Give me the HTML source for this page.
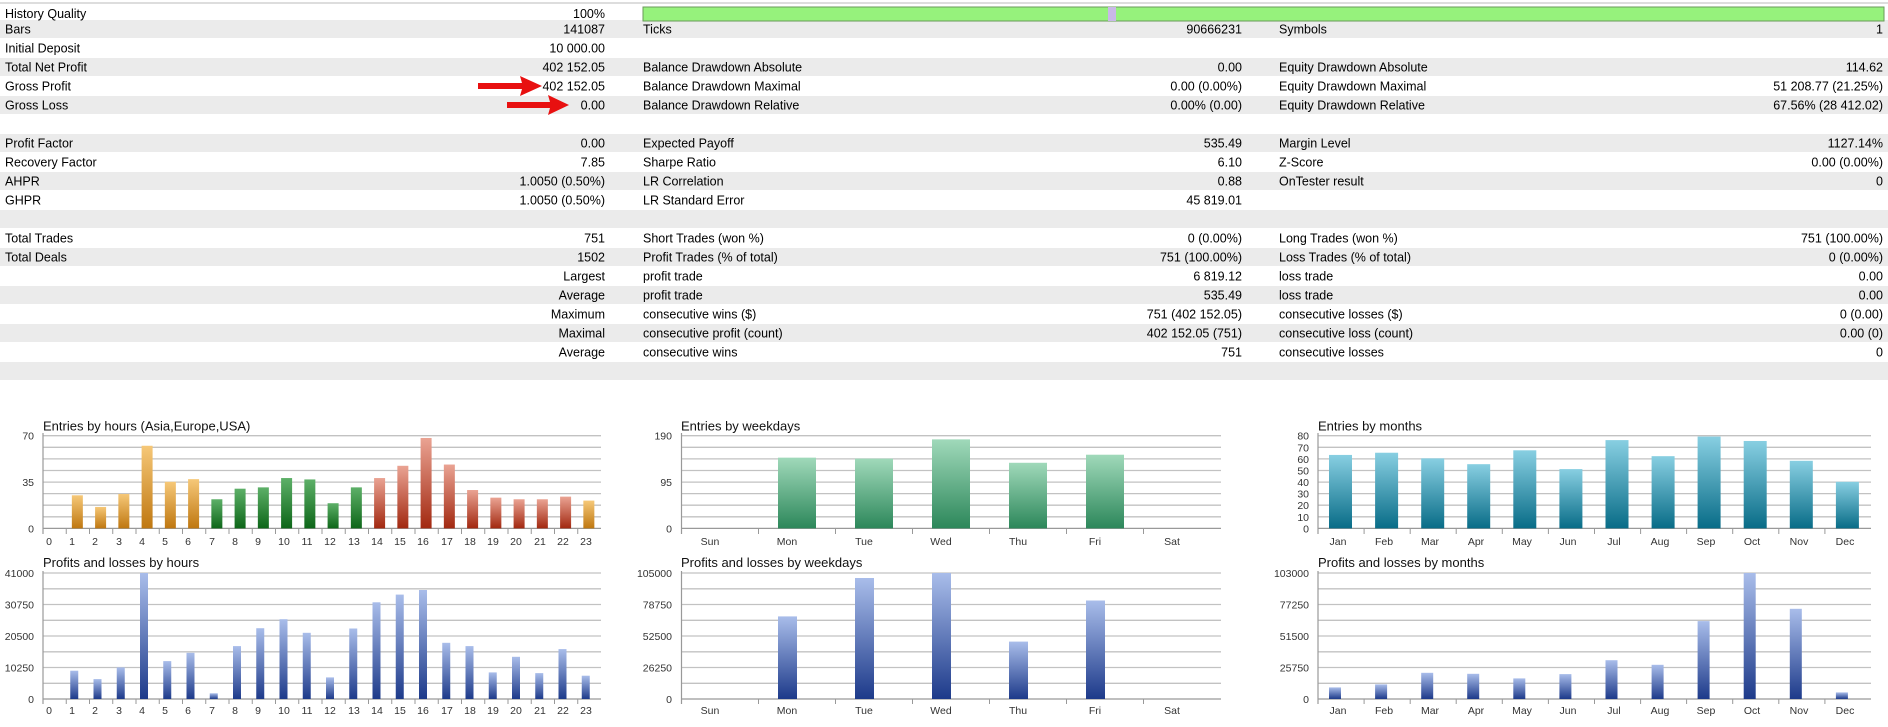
<!DOCTYPE html>
<html><head><meta charset="utf-8"><style>
html,body{margin:0;padding:0;background:#fff;}
svg{display:block;}
text{font-family:"Liberation Sans",sans-serif;}
.t{font-size:12.5px;fill:#000;}
.r{text-anchor:end;}
.ax{font-size:10.5px;fill:#333;}
.ti{font-size:13px;fill:#111;}
.g{stroke:#c2c2c2;stroke-width:1.3;}
</style></head><body>
<svg width="1888" height="727" viewBox="0 0 1888 727" xmlns="http://www.w3.org/2000/svg">
<defs>
<linearGradient id="or" x1="0" y1="0" x2="0" y2="1"><stop offset="0" stop-color="#f6c878"/><stop offset="1" stop-color="#bf7710"/></linearGradient>
<linearGradient id="gr" x1="0" y1="0" x2="0" y2="1"><stop offset="0" stop-color="#5db068"/><stop offset="1" stop-color="#0d6618"/></linearGradient>
<linearGradient id="rd" x1="0" y1="0" x2="0" y2="1"><stop offset="0" stop-color="#eaa393"/><stop offset="1" stop-color="#a22810"/></linearGradient>
<linearGradient id="wg" x1="0" y1="0" x2="0" y2="1"><stop offset="0" stop-color="#a0d9ba"/><stop offset="1" stop-color="#2c875a"/></linearGradient>
<linearGradient id="tl" x1="0" y1="0" x2="0" y2="1"><stop offset="0" stop-color="#88cfe2"/><stop offset="1" stop-color="#086c87"/></linearGradient>
<linearGradient id="bl" x1="0" y1="0" x2="0" y2="1"><stop offset="0" stop-color="#a9bdea"/><stop offset="1" stop-color="#1d3a8a"/></linearGradient>
</defs>
<rect width="1888" height="727" fill="#fff"/>
<line x1="0" y1="3" x2="1888" y2="3" stroke="#bbb"/>
<g fill="#ebebeb">
<rect x="0" y="20" width="1888" height="18"/>
<rect x="0" y="58" width="1888" height="18"/>
<rect x="0" y="96" width="1888" height="18"/>
<rect x="0" y="134" width="1888" height="18"/>
<rect x="0" y="172" width="1888" height="18"/>
<rect x="0" y="210" width="1888" height="18"/>
<rect x="0" y="248" width="1888" height="18"/>
<rect x="0" y="286" width="1888" height="18"/>
<rect x="0" y="324" width="1888" height="18"/>
<rect x="0" y="362" width="1888" height="18"/>
</g>
<rect x="643" y="7" width="1241" height="14" fill="#96f27c" stroke="#6a9a5a" stroke-width="1"/>
<rect x="1108" y="7" width="8" height="14" fill="#c9b8e8"/>
<g class="t">
<text x="5" y="18">History Quality</text><text x="605" y="18" class="r">100%</text>
<g transform="translate(0,-9)">
<text x="5" y="42.5">Bars</text><text x="605" y="42.5" class="r">141087</text><text x="643" y="42.5">Ticks</text><text x="1242" y="42.5" class="r">90666231</text><text x="1279" y="42.5">Symbols</text><text x="1883" y="42.5" class="r">1</text>
<text x="5" y="61.5">Initial Deposit</text><text x="605" y="61.5" class="r">10 000.00</text>
<text x="5" y="80.5">Total Net Profit</text><text x="605" y="80.5" class="r">402 152.05</text><text x="643" y="80.5">Balance Drawdown Absolute</text><text x="1242" y="80.5" class="r">0.00</text><text x="1279" y="80.5">Equity Drawdown Absolute</text><text x="1883" y="80.5" class="r">114.62</text>
<text x="5" y="99.5">Gross Profit</text><text x="605" y="99.5" class="r">402 152.05</text><text x="643" y="99.5">Balance Drawdown Maximal</text><text x="1242" y="99.5" class="r">0.00 (0.00%)</text><text x="1279" y="99.5">Equity Drawdown Maximal</text><text x="1883" y="99.5" class="r">51 208.77 (21.25%)</text>
<text x="5" y="118.5">Gross Loss</text><text x="605" y="118.5" class="r">0.00</text><text x="643" y="118.5">Balance Drawdown Relative</text><text x="1242" y="118.5" class="r">0.00% (0.00)</text><text x="1279" y="118.5">Equity Drawdown Relative</text><text x="1883" y="118.5" class="r">67.56% (28 412.02)</text>
<text x="5" y="156.5">Profit Factor</text><text x="605" y="156.5" class="r">0.00</text><text x="643" y="156.5">Expected Payoff</text><text x="1242" y="156.5" class="r">535.49</text><text x="1279" y="156.5">Margin Level</text><text x="1883" y="156.5" class="r">1127.14%</text>
<text x="5" y="175.5">Recovery Factor</text><text x="605" y="175.5" class="r">7.85</text><text x="643" y="175.5">Sharpe Ratio</text><text x="1242" y="175.5" class="r">6.10</text><text x="1279" y="175.5">Z-Score</text><text x="1883" y="175.5" class="r">0.00 (0.00%)</text>
<text x="5" y="194.5">AHPR</text><text x="605" y="194.5" class="r">1.0050 (0.50%)</text><text x="643" y="194.5">LR Correlation</text><text x="1242" y="194.5" class="r">0.88</text><text x="1279" y="194.5">OnTester result</text><text x="1883" y="194.5" class="r">0</text>
<text x="5" y="213.5">GHPR</text><text x="605" y="213.5" class="r">1.0050 (0.50%)</text><text x="643" y="213.5">LR Standard Error</text><text x="1242" y="213.5" class="r">45 819.01</text>
<text x="5" y="251.5">Total Trades</text><text x="605" y="251.5" class="r">751</text><text x="643" y="251.5">Short Trades (won %)</text><text x="1242" y="251.5" class="r">0 (0.00%)</text><text x="1279" y="251.5">Long Trades (won %)</text><text x="1883" y="251.5" class="r">751 (100.00%)</text>
<text x="5" y="270.5">Total Deals</text><text x="605" y="270.5" class="r">1502</text><text x="643" y="270.5">Profit Trades (% of total)</text><text x="1242" y="270.5" class="r">751 (100.00%)</text><text x="1279" y="270.5">Loss Trades (% of total)</text><text x="1883" y="270.5" class="r">0 (0.00%)</text>
<text x="605" y="289.5" class="r">Largest</text><text x="643" y="289.5">profit trade</text><text x="1242" y="289.5" class="r">6 819.12</text><text x="1279" y="289.5">loss trade</text><text x="1883" y="289.5" class="r">0.00</text>
<text x="605" y="308.5" class="r">Average</text><text x="643" y="308.5">profit trade</text><text x="1242" y="308.5" class="r">535.49</text><text x="1279" y="308.5">loss trade</text><text x="1883" y="308.5" class="r">0.00</text>
<text x="605" y="327.5" class="r">Maximum</text><text x="643" y="327.5">consecutive wins ($)</text><text x="1242" y="327.5" class="r">751 (402 152.05)</text><text x="1279" y="327.5">consecutive losses ($)</text><text x="1883" y="327.5" class="r">0 (0.00)</text>
<text x="605" y="346.5" class="r">Maximal</text><text x="643" y="346.5">consecutive profit (count)</text><text x="1242" y="346.5" class="r">402 152.05 (751)</text><text x="1279" y="346.5">consecutive loss (count)</text><text x="1883" y="346.5" class="r">0.00 (0)</text>
<text x="605" y="365.5" class="r">Average</text><text x="643" y="365.5">consecutive wins</text><text x="1242" y="365.5" class="r">751</text><text x="1279" y="365.5">consecutive losses</text><text x="1883" y="365.5" class="r">0</text>
</g>
</g>
<g fill="#e81010">
<polygon points="478,83 522,83 520,76 542,86 520,96 522,89 478,89"/>
<polygon points="507,102 550,102 548,95 569,105 548,115 550,108 507,108"/>
</g>

<g class="g">
<line x1="43" x2="601" y1="435.7" y2="435.7"/><line x1="43" x2="601" y1="447.3" y2="447.3"/><line x1="43" x2="601" y1="458.9" y2="458.9"/><line x1="43" x2="601" y1="470.5" y2="470.5"/><line x1="43" x2="601" y1="482.1" y2="482.1"/><line x1="43" x2="601" y1="493.6" y2="493.6"/><line x1="43" x2="601" y1="505.2" y2="505.2"/><line x1="43" x2="601" y1="516.8" y2="516.8"/>
<line x1="681.5" x2="1221" y1="435.7" y2="435.7"/><line x1="681.5" x2="1221" y1="447.3" y2="447.3"/><line x1="681.5" x2="1221" y1="458.9" y2="458.9"/><line x1="681.5" x2="1221" y1="470.5" y2="470.5"/><line x1="681.5" x2="1221" y1="482.1" y2="482.1"/><line x1="681.5" x2="1221" y1="493.6" y2="493.6"/><line x1="681.5" x2="1221" y1="505.2" y2="505.2"/><line x1="681.5" x2="1221" y1="516.8" y2="516.8"/>
<line x1="1318" x2="1871" y1="435.7" y2="435.7"/><line x1="1318" x2="1871" y1="447.3" y2="447.3"/><line x1="1318" x2="1871" y1="458.9" y2="458.9"/><line x1="1318" x2="1871" y1="470.5" y2="470.5"/><line x1="1318" x2="1871" y1="482.1" y2="482.1"/><line x1="1318" x2="1871" y1="493.6" y2="493.6"/><line x1="1318" x2="1871" y1="505.2" y2="505.2"/><line x1="1318" x2="1871" y1="516.8" y2="516.8"/>
<line x1="43" x2="601" y1="573" y2="573"/><line x1="43" x2="601" y1="588.8" y2="588.8"/><line x1="43" x2="601" y1="604.5" y2="604.5"/><line x1="43" x2="601" y1="620.3" y2="620.3"/><line x1="43" x2="601" y1="636" y2="636"/><line x1="43" x2="601" y1="651.8" y2="651.8"/><line x1="43" x2="601" y1="667.5" y2="667.5"/><line x1="43" x2="601" y1="683.3" y2="683.3"/>
<line x1="681.5" x2="1221" y1="573" y2="573"/><line x1="681.5" x2="1221" y1="588.8" y2="588.8"/><line x1="681.5" x2="1221" y1="604.5" y2="604.5"/><line x1="681.5" x2="1221" y1="620.3" y2="620.3"/><line x1="681.5" x2="1221" y1="636" y2="636"/><line x1="681.5" x2="1221" y1="651.8" y2="651.8"/><line x1="681.5" x2="1221" y1="667.5" y2="667.5"/><line x1="681.5" x2="1221" y1="683.3" y2="683.3"/>
<line x1="1318" x2="1871" y1="573" y2="573"/><line x1="1318" x2="1871" y1="588.8" y2="588.8"/><line x1="1318" x2="1871" y1="604.5" y2="604.5"/><line x1="1318" x2="1871" y1="620.3" y2="620.3"/><line x1="1318" x2="1871" y1="636" y2="636"/><line x1="1318" x2="1871" y1="651.8" y2="651.8"/><line x1="1318" x2="1871" y1="667.5" y2="667.5"/><line x1="1318" x2="1871" y1="683.3" y2="683.3"/>
</g>
<g stroke="#999" stroke-width="1.2">
<line x1="43" y1="433" x2="43" y2="534"/><line x1="43" y1="528.4" x2="601" y2="528.4"/>
<line x1="681.5" y1="433" x2="681.5" y2="534"/><line x1="681.5" y1="528.4" x2="1221" y2="528.4"/>
<line x1="1318" y1="433" x2="1318" y2="534"/><line x1="1318" y1="528.4" x2="1871" y2="528.4"/>
<line x1="43" y1="571" x2="43" y2="704"/><line x1="43" y1="699" x2="601" y2="699"/>
<line x1="681.5" y1="571" x2="681.5" y2="704"/><line x1="681.5" y1="699" x2="1221" y2="699"/>
<line x1="1318" y1="571" x2="1318" y2="704"/><line x1="1318" y1="699" x2="1871" y2="699"/>
</g>
<g stroke="#999" stroke-width="1">
<path d="M66.25 529v5M89.5 529v5M112.75 529v5M136 529v5M159.25 529v5M182.5 529v5M205.75 529v5M229 529v5M252.25 529v5M275.5 529v5M298.75 529v5M322 529v5M345.25 529v5M368.5 529v5M391.75 529v5M415 529v5M438.25 529v5M461.5 529v5M484.75 529v5M508 529v5M531.25 529v5M554.5 529v5M577.75 529v5"/>
<path d="M66.25 699v5M89.5 699v5M112.75 699v5M136 699v5M159.25 699v5M182.5 699v5M205.75 699v5M229 699v5M252.25 699v5M275.5 699v5M298.75 699v5M322 699v5M345.25 699v5M368.5 699v5M391.75 699v5M415 699v5M438.25 699v5M461.5 699v5M484.75 699v5M508 699v5M531.25 699v5M554.5 699v5M577.75 699v5"/>
<path d="M758.5 529v5M835.5 529v5M912.5 529v5M989.5 529v5M1066.5 529v5M1143.5 529v5M758.5 699v5M835.5 699v5M912.5 699v5M989.5 699v5M1066.5 699v5M1143.5 699v5"/>
<path d="M1364.1 529v5M1410.2 529v5M1456.2 529v5M1502.3 529v5M1548.4 529v5M1594.5 529v5M1640.6 529v5M1686.6 529v5M1732.7 529v5M1778.8 529v5M1824.9 529v5M1364.1 699v5M1410.2 699v5M1456.2 699v5M1502.3 699v5M1548.4 699v5M1594.5 699v5M1640.6 699v5M1686.6 699v5M1732.7 699v5M1778.8 699v5M1824.9 699v5"/>
</g>
<g class="ti">
<text x="43" y="430.5">Entries by hours (Asia,Europe,USA)</text>
<text x="681" y="430.5">Entries by weekdays</text>
<text x="1318" y="430.5">Entries by months</text>
<text x="43" y="567">Profits and losses by hours</text>
<text x="681" y="567">Profits and losses by weekdays</text>
<text x="1318" y="567">Profits and losses by months</text>
</g>
<g class="ax r">
<text x="34" y="439.7">70</text><text x="34" y="486">35</text><text x="34" y="532.4">0</text>
<text x="34" y="577">41000</text><text x="34" y="608.5">30750</text><text x="34" y="640">20500</text><text x="34" y="671.5">10250</text><text x="34" y="703">0</text>
<text x="672" y="439.7">190</text><text x="672" y="486">95</text><text x="672" y="532.4">0</text>
<text x="672" y="577">105000</text><text x="672" y="608.5">78750</text><text x="672" y="640">52500</text><text x="672" y="671.5">26250</text><text x="672" y="703">0</text>
<text x="1309" y="439.7">80</text><text x="1309" y="451.3">70</text><text x="1309" y="462.9">60</text><text x="1309" y="474.5">50</text><text x="1309" y="486.1">40</text><text x="1309" y="497.6">30</text><text x="1309" y="509.2">20</text><text x="1309" y="520.8">10</text><text x="1309" y="532.4">0</text>
<text x="1309" y="577">103000</text><text x="1309" y="608.5">77250</text><text x="1309" y="640">51500</text><text x="1309" y="671.5">25750</text><text x="1309" y="703">0</text>
</g>
<g class="ax" text-anchor="middle">
<text x="49" y="545">0</text><text x="72" y="545">1</text><text x="95" y="545">2</text><text x="119" y="545">3</text><text x="142" y="545">4</text><text x="165" y="545">5</text><text x="188" y="545">6</text><text x="212" y="545">7</text><text x="235" y="545">8</text><text x="258" y="545">9</text><text x="284" y="545">10</text><text x="307" y="545">11</text><text x="330" y="545">12</text><text x="354" y="545">13</text><text x="377" y="545">14</text><text x="400" y="545">15</text><text x="423" y="545">16</text><text x="447" y="545">17</text><text x="470" y="545">18</text><text x="493" y="545">19</text><text x="516" y="545">20</text><text x="540" y="545">21</text><text x="563" y="545">22</text><text x="586" y="545">23</text>
<text x="49" y="714">0</text><text x="72" y="714">1</text><text x="95" y="714">2</text><text x="119" y="714">3</text><text x="142" y="714">4</text><text x="165" y="714">5</text><text x="188" y="714">6</text><text x="212" y="714">7</text><text x="235" y="714">8</text><text x="258" y="714">9</text><text x="284" y="714">10</text><text x="307" y="714">11</text><text x="330" y="714">12</text><text x="354" y="714">13</text><text x="377" y="714">14</text><text x="400" y="714">15</text><text x="423" y="714">16</text><text x="447" y="714">17</text><text x="470" y="714">18</text><text x="493" y="714">19</text><text x="516" y="714">20</text><text x="540" y="714">21</text><text x="563" y="714">22</text><text x="586" y="714">23</text>
<text x="710" y="545">Sun</text><text x="787" y="545">Mon</text><text x="864" y="545">Tue</text><text x="941" y="545">Wed</text><text x="1018" y="545">Thu</text><text x="1095" y="545">Fri</text><text x="1172" y="545">Sat</text>
<text x="710" y="714">Sun</text><text x="787" y="714">Mon</text><text x="864" y="714">Tue</text><text x="941" y="714">Wed</text><text x="1018" y="714">Thu</text><text x="1095" y="714">Fri</text><text x="1172" y="714">Sat</text>
<text x="1338" y="545">Jan</text><text x="1384" y="545">Feb</text><text x="1430" y="545">Mar</text><text x="1476" y="545">Apr</text><text x="1522" y="545">May</text><text x="1568" y="545">Jun</text><text x="1614" y="545">Jul</text><text x="1660" y="545">Aug</text><text x="1706" y="545">Sep</text><text x="1752" y="545">Oct</text><text x="1799" y="545">Nov</text><text x="1845" y="545">Dec</text>
<text x="1338" y="714">Jan</text><text x="1384" y="714">Feb</text><text x="1430" y="714">Mar</text><text x="1476" y="714">Apr</text><text x="1522" y="714">May</text><text x="1568" y="714">Jun</text><text x="1614" y="714">Jul</text><text x="1660" y="714">Aug</text><text x="1706" y="714">Sep</text><text x="1752" y="714">Oct</text><text x="1799" y="714">Nov</text><text x="1845" y="714">Dec</text>
</g>

<g transform="translate(0,528.4) scale(1,0.734) translate(0,-529)">
<rect x="71.85" y="483.9" width="11" height="45.1" fill="url(#or)"/>
<rect x="95.1" y="499.8" width="11" height="29.2" fill="url(#or)"/>
<rect x="118.35" y="482.1" width="11" height="46.9" fill="url(#or)"/>
<rect x="141.6" y="416.4" width="11" height="112.6" fill="url(#or)"/>
<rect x="164.85" y="465.5" width="11" height="63.5" fill="url(#or)"/>
<rect x="188.1" y="461.9" width="11" height="67.1" fill="url(#or)"/>
<rect x="211.35" y="489.3" width="11" height="39.7" fill="url(#gr)"/>
<rect x="234.6" y="474.9" width="11" height="54.1" fill="url(#gr)"/>
<rect x="257.85" y="473.1" width="11" height="55.9" fill="url(#gr)"/>
<rect x="281.1" y="460.4" width="11" height="68.6" fill="url(#gr)"/>
<rect x="304.35" y="462.3" width="11" height="66.7" fill="url(#gr)"/>
<rect x="327.6" y="494.7" width="11" height="34.3" fill="url(#gr)"/>
<rect x="350.85" y="473.1" width="11" height="55.9" fill="url(#gr)"/>
<rect x="374.1" y="460.4" width="11" height="68.6" fill="url(#rd)"/>
<rect x="397.35" y="443.7" width="11" height="85.3" fill="url(#rd)"/>
<rect x="420.6" y="405.8" width="11" height="123.2" fill="url(#rd)"/>
<rect x="443.85" y="442" width="11" height="87" fill="url(#rd)"/>
<rect x="467.1" y="476.7" width="11" height="52.3" fill="url(#rd)"/>
<rect x="490.35" y="487.1" width="11" height="41.9" fill="url(#rd)"/>
<rect x="513.6" y="489.3" width="11" height="39.7" fill="url(#rd)"/>
<rect x="536.85" y="489.3" width="11" height="39.7" fill="url(#rd)"/>
<rect x="560.1" y="485.7" width="11" height="43.3" fill="url(#rd)"/>
<rect x="583.35" y="491.1" width="11" height="37.9" fill="url(#or)"/>
<g fill="url(#wg)">
<rect x="778" y="432.6" width="38" height="96.4"/>
<rect x="855" y="433.9" width="38" height="95.1"/>
<rect x="932" y="407.7" width="38" height="121.3"/>
<rect x="1009" y="439.6" width="38" height="89.4"/>
<rect x="1086" y="428.6" width="38" height="100.4"/>
</g>
<g fill="url(#tl)">
<rect x="1329" y="428.9" width="23" height="100.1"/>
<rect x="1375.1" y="425.9" width="23" height="103.1"/>
<rect x="1421.2" y="433.6" width="23" height="95.4"/>
<rect x="1467.2" y="441.5" width="23" height="87.5"/>
<rect x="1513.3" y="422.6" width="23" height="106.4"/>
<rect x="1559.4" y="448.2" width="23" height="80.8"/>
<rect x="1605.5" y="408.7" width="23" height="120.3"/>
<rect x="1651.6" y="430.6" width="23" height="98.4"/>
<rect x="1697.6" y="403.9" width="23" height="125.1"/>
<rect x="1743.7" y="409.9" width="23" height="119.1"/>
<rect x="1789.8" y="436.9" width="23" height="92.1"/>
<rect x="1835.9" y="465.5" width="23" height="63.5"/>
</g>
</g>

<g fill="url(#bl)">
<rect x="70.25" y="670.7" width="8" height="28.3"/>
<rect x="93.5" y="679.1" width="8" height="19.9"/>
<rect x="116.75" y="667.4" width="8" height="31.6"/>
<rect x="140" y="573" width="8" height="126"/>
<rect x="163.25" y="661.1" width="8" height="37.9"/>
<rect x="186.5" y="652.8" width="8" height="46.2"/>
<rect x="209.75" y="693.3" width="8" height="5.7"/>
<rect x="233" y="646.1" width="8" height="52.9"/>
<rect x="256.25" y="628.2" width="8" height="70.8"/>
<rect x="279.5" y="619.2" width="8" height="79.8"/>
<rect x="302.75" y="632.8" width="8" height="66.2"/>
<rect x="326" y="677.4" width="8" height="21.6"/>
<rect x="349.25" y="628.5" width="8" height="70.5"/>
<rect x="372.5" y="602.3" width="8" height="96.7"/>
<rect x="395.75" y="594.6" width="8" height="104.4"/>
<rect x="419" y="590" width="8" height="109"/>
<rect x="442.25" y="642.8" width="8" height="56.2"/>
<rect x="465.5" y="646.1" width="8" height="52.9"/>
<rect x="488.75" y="672.4" width="8" height="26.6"/>
<rect x="512" y="656.8" width="8" height="42.2"/>
<rect x="535.25" y="673.1" width="8" height="25.9"/>
<rect x="558.5" y="649.1" width="8" height="49.9"/>
<rect x="581.75" y="675.7" width="8" height="23.3"/>
<rect x="778" y="616.4" width="19" height="82.6"/>
<rect x="855" y="578" width="19" height="121"/>
<rect x="932" y="573" width="19" height="126"/>
<rect x="1009" y="641.6" width="19" height="57.4"/>
<rect x="1086" y="600.5" width="19" height="98.5"/>
<rect x="1329" y="687.4" width="12" height="11.6"/>
<rect x="1375.1" y="684.4" width="12" height="14.6"/>
<rect x="1421.2" y="672.8" width="12" height="26.2"/>
<rect x="1467.2" y="673.8" width="12" height="25.2"/>
<rect x="1513.3" y="678.4" width="12" height="20.6"/>
<rect x="1559.4" y="674.1" width="12" height="24.9"/>
<rect x="1605.5" y="660.2" width="12" height="38.8"/>
<rect x="1651.6" y="664.8" width="12" height="34.2"/>
<rect x="1697.6" y="621.1" width="12" height="77.9"/>
<rect x="1743.7" y="573" width="12" height="126"/>
<rect x="1789.8" y="608.8" width="12" height="90.2"/>
<rect x="1835.9" y="692.4" width="12" height="6.6"/>
</g>
</svg>
</body></html>
